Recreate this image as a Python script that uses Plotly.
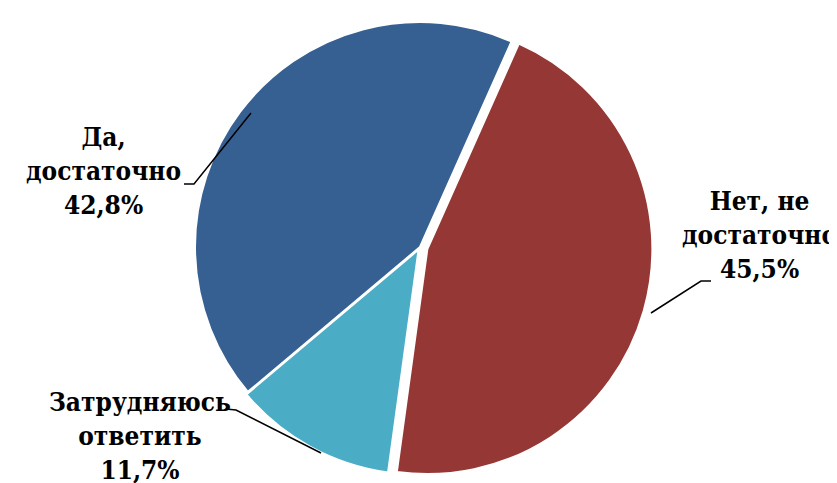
import plotly.graph_objects as go

labels = ["Нет, не достаточно", "Затрудняюсь ответить", "Да, достаточно"]
label_lines = [["Нет, не", "достаточно"], ["Затрудняюсь", "ответить"], ["Да,", "достаточно"]]
values = [45.5, 11.7, 42.8]
colors = ["#953735", "#4BACC6", "#376092"]
pulls = [0.034, 0.013, 0.0]

W, H = 837, 483

def px(x):
    return x / W

def py(y):
    return 1 - y / H

cx, cy, r = 412, 239, 225
half = r * (1 + max(pulls))

fig = go.Figure(go.Pie(
    labels=labels,
    values=values,
    sort=False,
    direction="clockwise",
    rotation=24,
    pull=pulls,
    marker=dict(colors=colors, line=dict(color="white", width=2)),
    textinfo="none",
    hoverinfo="label+percent",
    showlegend=False,
    domain=dict(x=[px(cx - half), px(cx + half)], y=[py(cy + half), py(cy - half)]),
))

label_pos = [(751, 227), (132, 428), (95, 163)]
leaders = [
    [(703, 273), (693, 273), (643, 305)],
    [(218, 401), (228, 402), (313, 445)],
    [(176, 176), (186, 176), (243, 105)],
]

font = dict(family="DejaVu Serif Condensed, DejaVu Serif, serif", size=26, color="black")
for lines, v, (lx, ly), path in zip(label_lines, values, label_pos, leaders):
    txt = "<b>" + "<br>".join(lines) + "<br>" + f"{v:.1f}".replace(".", ",") + "%</b>"
    fig.add_annotation(x=px(lx), y=py(ly), xref="paper", yref="paper",
                       text=txt, showarrow=False, font=font, align="center",
                       xanchor="center", yanchor="middle")
    d = "M " + " L ".join(f"{px(x)},{py(y)}" for x, y in path)
    fig.add_shape(type="path", path=d, xref="paper", yref="paper",
                  line=dict(color="black", width=1.5))

fig.update_layout(width=W, height=H, margin=dict(l=0, r=0, t=0, b=0),
                  paper_bgcolor="white", plot_bgcolor="white")
fig.write_html("out.html")
